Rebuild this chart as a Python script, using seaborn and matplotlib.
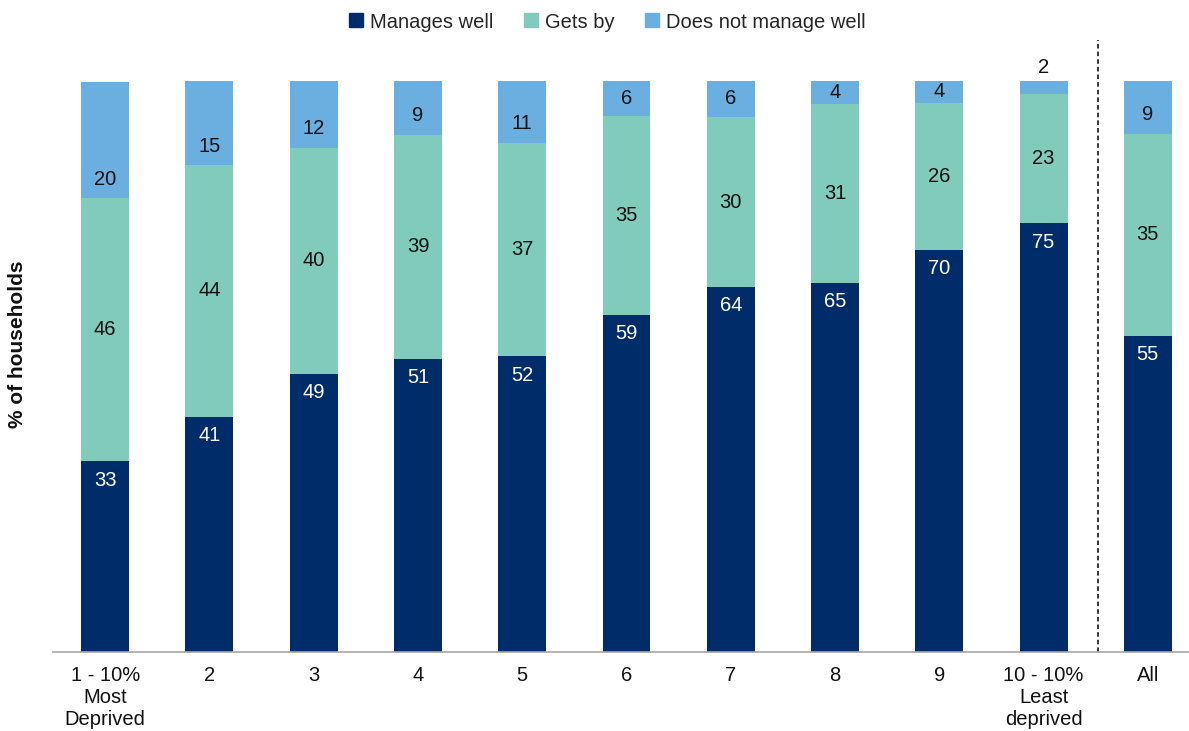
import numpy as np
import pandas as pd
import matplotlib
matplotlib.use("Agg")
import matplotlib.pyplot as plt
import seaborn as sns
from matplotlib.lines import Line2D

sns.set_style("white")
plt.rcParams["font.family"] = ["Liberation Sans", "DejaVu Sans"]

# ---------------------------------------------------------------------------
# data (percent of households)
# ---------------------------------------------------------------------------
categories = ["1 - 10%\nMost\nDeprived", "2", "3", "4", "5", "6", "7", "8", "9",
              "10 - 10%\nLeast\ndeprived", "All"]
manages_well = [33.4, 41.2, 48.7, 51.4, 51.8, 59.0, 63.9, 64.6, 70.4, 75.1, 55.4]
gets_by = [46.1, 44.1, 39.6, 39.2, 37.4, 34.9, 29.8, 31.4, 25.8, 22.6, 35.4]
not_well = [20.4, 14.7, 11.7, 9.4, 10.8, 6.1, 6.3, 4.0, 3.8, 2.3, 9.2]

series = ["Manages well", "Gets by", "Does not manage well"]
colors = ["#002D6A", "#80CBBB", "#6BAEE0"]
text_colors = ["white", "#111111", "#111111"]
FS = 14.5

df = pd.DataFrame({"category": categories, "Manages well": manages_well,
                   "Gets by": gets_by, "Does not manage well": not_well})

fig = plt.figure(figsize=(11.89, 7.31), dpi=100)
ax = fig.add_axes([53 / 1189, 1 - 652 / 731, 1147 / 1189, (652 - 81) / 731])

bottom = np.zeros(len(df))
for k, (name, col, tcol) in enumerate(zip(series, colors, text_colors)):
    sns.barplot(data=df, x="category", y=name, bottom=bottom, color=col,
                width=0.46, saturation=1, ax=ax, label=name, linewidth=0)
    for i, (v, b) in enumerate(zip(df[name], bottom)):
        if k == 0:
            # inside end
            ax.text(i, b + v - 3.3, f"{round(v)}", ha="center", va="center",
                    fontsize=FS, color=tcol)
        elif k == 1:
            ax.text(i, b + v / 2, f"{round(v)}", ha="center", va="center",
                    fontsize=FS, color=tcol)
        elif v < 3:
            # too thin, put the label above the bar
            ax.text(i, b + v + 2.3, f"{round(v)}", ha="center", va="center",
                    fontsize=FS, color=tcol, clip_on=False)
        else:
            # inside base (centred when the segment is small)
            ax.text(i, b + min(3.3, v / 2), f"{round(v)}", ha="center", va="center",
                    fontsize=FS, color=tcol)
    bottom = bottom + df[name].values

ax.set_xlim(-0.5, 10.5)
ax.set_ylim(0, 100)
ax.axvline(9.52, ymin=0, ymax=(652 - 40) / (652 - 81), color="black",
           linestyle=(0, (3, 2)), linewidth=1.1, clip_on=False)

for s in ["top", "right", "left"]:
    ax.spines[s].set_visible(False)
ax.spines["bottom"].set_color("#a6a6a6")
ax.spines["bottom"].set_linewidth(1.2)
ax.set_yticks([])
ax.tick_params(axis="x", length=0, pad=10, labelsize=FS, labelcolor="#111111")
ax.set_xlabel("")
ax.set_ylabel("")
fig.text(18 / 1189, 1 - 344 / 731, "% of households", rotation=90, ha="center",
         va="center", fontsize=15, fontweight="bold", color="#111111")

handles = [Line2D([], [], marker="s", linestyle="", markersize=10,
                  markerfacecolor=c, markeredgecolor=c) for c in colors]
if ax.get_legend():
    ax.get_legend().remove()
fig.legend(handles, series, loc="center", bbox_to_anchor=(606 / 1189, 1 - 22 / 731),
           ncol=3, frameon=False, fontsize=FS, handletextpad=0.2, columnspacing=1.35,
           handlelength=1.0)

fig.savefig("out.png", dpi=100)
